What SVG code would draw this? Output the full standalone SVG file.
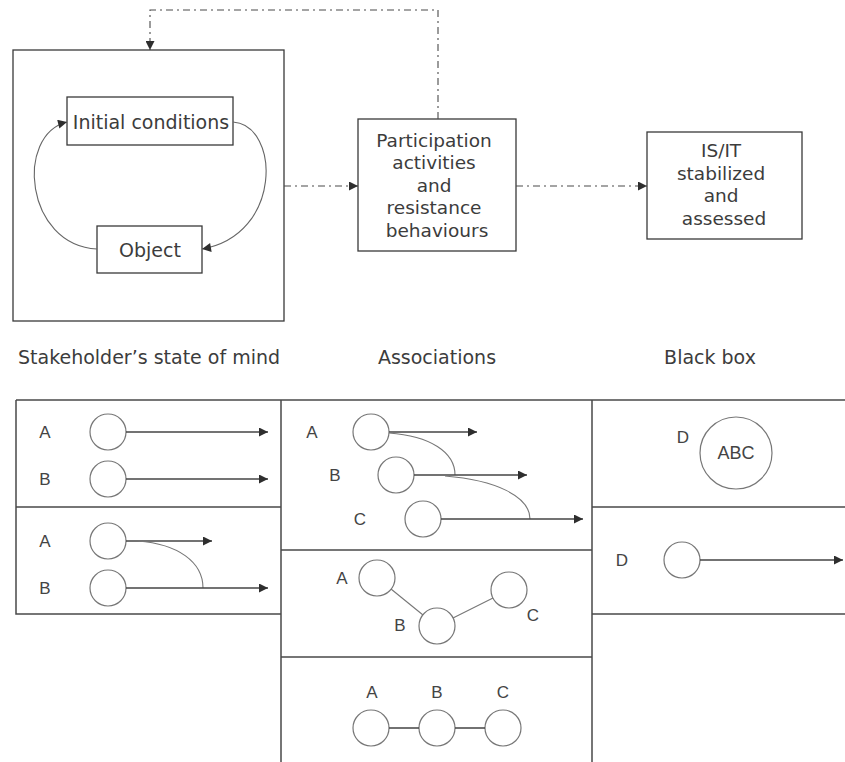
<svg xmlns="http://www.w3.org/2000/svg" width="845" height="762" viewBox="0 0 845 762">
  <defs>
    <marker id="tri" viewBox="0 0 10 10" refX="10" refY="5" markerWidth="12" markerHeight="9" markerUnits="userSpaceOnUse" orient="auto">
      <path d="M0,0 L10,5 L0,10 z" fill="#2e2e2e"/>
    </marker>
    <marker id="triS" viewBox="0 0 10 10" refX="10" refY="5" markerWidth="12" markerHeight="9" markerUnits="userSpaceOnUse" orient="auto">
      <path d="M0,0 L10,5 L0,10 z" fill="#2e2e2e"/>
    </marker>
  </defs>
  <style>
    .box { fill: #ffffff; stroke: #3a3a3a; stroke-width: 1.3; }
    .grid { fill: none; stroke: #4a4a4a; stroke-width: 1.5; }
    .txt { font-family: "DejaVu Sans", Verdana, sans-serif; fill: #3c3c3c; }
    .big { font-size: 18.5px; }
    .lab { font-size: 19px; }
    .let { font-family: "Liberation Sans", Arial, sans-serif; font-size: 17px; fill: #444444; dominant-baseline: central; text-anchor: middle; }
    .dd { fill: none; stroke: #4a4a4a; stroke-width: 1.1; stroke-dasharray: 7 4 2 4; }
    .loop { fill: none; stroke: #666666; stroke-width: 1.1; }
    .node { fill: #ffffff; stroke: #777777; stroke-width: 1.2; }
    .ln { fill: none; stroke: #444444; stroke-width: 1.3; }
    .thin { fill: none; stroke: #777777; stroke-width: 1.1; }
  </style>
  <rect width="845" height="762" fill="#ffffff"/>

  <!-- upper process flow -->
  <g id="state-of-mind">
    <rect class="box" x="13" y="50" width="271" height="271"/>
  </g>
  <g id="initial-conditions">
    <rect class="box" x="67" y="97" width="166" height="48"/>
    <text class="txt lab" x="151" y="129" text-anchor="middle">Initial conditions</text>
  </g>
  <g id="object">
    <rect class="box" x="97" y="226" width="105" height="47"/>
    <text class="txt lab" x="150" y="257" text-anchor="middle">Object</text>
  </g>
  <g id="participation">
    <rect class="box" x="358" y="119" width="158" height="132"/>
    <text class="txt big" text-anchor="middle">
      <tspan x="437" y="147">Participation</tspan>
      <tspan x="437" y="169">activities</tspan>
      <tspan x="437" y="191.5">and</tspan>
      <tspan x="437" y="214">resistance</tspan>
      <tspan x="437" y="236.5">behaviours</tspan>
    </text>
  </g>
  <g id="is-it">
    <rect class="box" x="647" y="132" width="155" height="107"/>
    <text class="txt big" text-anchor="middle">
      <tspan x="724" y="157">IS/IT</tspan>
      <tspan x="724" y="179.5">stabilized</tspan>
      <tspan x="724" y="202">and</tspan>
      <tspan x="724" y="225">assessed</tspan>
    </text>
  </g>

  <g id="connectors">
    <path class="loop" d="M97,249 C25,245 15,135 67,122" marker-end="url(#tri)"/>
    <path class="loop" d="M233,122 C280,125 283,235 202,249" marker-end="url(#tri)"/>
    <path class="dd" d="M438,119 V10 H150 V50" marker-end="url(#tri)"/>
    <path class="dd" d="M284,186 H358" marker-end="url(#tri)"/>
    <path class="dd" d="M516,186 H647" marker-end="url(#tri)"/>
  </g>

  <!-- column headings -->
  <g id="headings" class="txt lab">
    <text x="18" y="364">Stakeholder’s state of mind</text>
    <text x="437" y="364" text-anchor="middle">Associations</text>
    <text x="710" y="364" text-anchor="middle">Black box</text>
  </g>

  <!-- lower table -->
  <g id="table">
    <path class="grid" d="M16,400 H845 M16,400 V614 H281 M16,507 H281 M281,400 V762 M592,400 V762 M281,550 H592 M281,657 H592 M592,507 H845 M592,614 H845"/>
  </g>

  <g id="stakeholder-panels">
    <text class="let" x="45" y="432">A</text>
    <circle class="node" cx="108" cy="432" r="18"/>
    <path class="ln" d="M126,432 H268" marker-end="url(#triS)"/>
    <text class="let" x="45" y="479">B</text>
    <circle class="node" cx="108" cy="479" r="18"/>
    <path class="ln" d="M126,479 H268" marker-end="url(#triS)"/>

    <text class="let" x="45" y="541">A</text>
    <circle class="node" cx="108" cy="541" r="18"/>
    <path class="ln" d="M126,541 H212" marker-end="url(#triS)"/>
    <path class="thin" d="M138,541 C178,544 203,562 203,588"/>
    <text class="let" x="45" y="588">B</text>
    <circle class="node" cx="108" cy="588" r="18"/>
    <path class="ln" d="M126,588 H268" marker-end="url(#triS)"/>
  </g>

  <g id="association-panels">
    <text class="let" x="312" y="432">A</text>
    <circle class="node" cx="371" cy="432" r="18"/>
    <path class="ln" d="M389,432 H477" marker-end="url(#triS)"/>
    <path class="thin" d="M389,433 C430,436 455,452 455,475"/>
    <text class="let" x="335" y="475">B</text>
    <circle class="node" cx="396" cy="475" r="18"/>
    <path class="ln" d="M414,475 H527" marker-end="url(#triS)"/>
    <path class="thin" d="M445,476 C495,480 530,496 530,519"/>
    <text class="let" x="360" y="519">C</text>
    <circle class="node" cx="423" cy="519" r="18"/>
    <path class="ln" d="M441,519 H583" marker-end="url(#triS)"/>

    <text class="let" x="342" y="578">A</text>
    <circle class="node" cx="377" cy="578" r="18"/>
    <text class="let" x="400" y="625">B</text>
    <circle class="node" cx="437" cy="626" r="18"/>
    <text class="let" x="533" y="615">C</text>
    <circle class="node" cx="509" cy="590" r="18"/>
    <path class="thin" d="M391,589 L423,615 M453,618 L493,598"/>

    <text class="let" x="372" y="692">A</text>
    <text class="let" x="437" y="692">B</text>
    <text class="let" x="503" y="692">C</text>
    <circle class="node" cx="371" cy="728" r="18"/>
    <circle class="node" cx="437" cy="728" r="18"/>
    <circle class="node" cx="503" cy="728" r="18"/>
    <path class="ln" d="M389,728 H419 M455,728 H485"/>
  </g>

  <g id="black-box-panels">
    <text class="let" x="683" y="437">D</text>
    <circle class="node" cx="736" cy="453" r="36"/>
    <text class="let" x="736" y="453" style="font-size:18px">ABC</text>

    <text class="let" x="622" y="560">D</text>
    <circle class="node" cx="682" cy="560" r="18"/>
    <path class="ln" d="M700,560 H843" marker-end="url(#triS)"/>
  </g>
</svg>
